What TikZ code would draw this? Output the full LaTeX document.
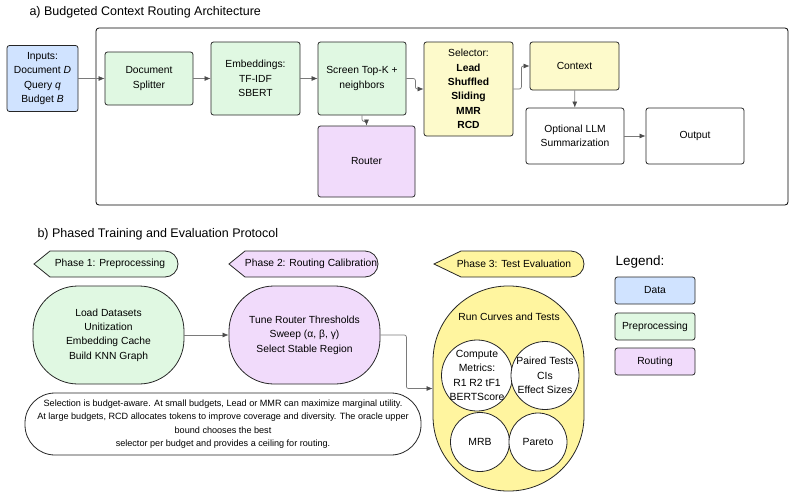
\documentclass[tikz,border=0pt]{standalone}
\usepackage{fontspec}
\setmainfont{Liberation Sans}
\usetikzlibrary{arrows.meta, positioning}

\definecolor{datablue}{HTML}{D0E3FF}
\definecolor{prepgreen}{HTML}{E0F8E2}
\definecolor{routepurple}{HTML}{F1DBFB}
\definecolor{selyellow}{HTML}{FDFACB}
\definecolor{evalyellow}{HTML}{FFF59F}
\definecolor{wire}{HTML}{7A7A7A}

\begin{document}
\begin{tikzpicture}[x=1pt, y=-1pt,
	blk/.style={draw=black!85, line width=0.8pt, rounded corners=2.5pt, align=center,
		inner sep=1pt, font=\fontsize{10.3}{14.4}\selectfont},
	circ/.style={circle, draw=black!85, line width=0.8pt, fill=white, align=center,
		inner sep=-5pt, font=\fontsize{10.4}{14.3}\selectfont},
	tag/.style={draw=black!85, line width=0.8pt},
	flow/.style={wire, line width=0.7pt, rounded corners=2pt,
		-{Latex[length=6pt, width=5pt, color=black!70]}},
	heading/.style={anchor=west, font=\fontsize{12.5}{15}\selectfont}]

			\useasboundingbox (0,0) rectangle (795,498);

			% Part a: the architecture
			\node[heading] (titlea) at (26,12) {a) Budgeted Context Routing Architecture};

			\draw[line width=0.8pt, rounded corners=3pt] (96,28) rectangle (788,205);

			\node[blk, fill=datablue, minimum width=71pt, minimum height=66pt] (inputs) at (42.5,78.5)
				{Inputs:\\Document \textit{D}\\Query \textit{q}\\Budget \textit{B}};
			\node[blk, fill=prepgreen, minimum width=88pt, minimum height=53pt] (splitter) at (149,78.5)
				{Document\\Splitter};
			\node[blk, fill=prepgreen, minimum width=89pt, minimum height=73pt] (embed) at (255.5,78.5)
				{Embeddings:\\TF-IDF\\SBERT};
			\node[blk, fill=prepgreen, minimum width=88pt, minimum height=73pt] (screen) at (362,78.5)
				{Screen Top-K +\\neighbors};
			\node[blk, fill=routepurple, minimum width=97pt, minimum height=71pt] (router) at (366.5,161.5)
				{Router};
			\node[blk, fill=selyellow, minimum width=89pt, minimum height=94pt] (selector) at (468.5,89)
				{Selector:\\\textbf{Lead}\\\textbf{Shuffled}\\\textbf{Sliding}\\\textbf{MMR}\\\textbf{RCD}};
			\node[blk, fill=selyellow, minimum width=89pt, minimum height=48pt] (context) at (574.5,66)
				{Context};
			\node[blk, fill=white, minimum width=98pt, minimum height=56pt] (summ) at (575,136)
				{Optional LLM\\Summarization};
			\node[blk, fill=white, minimum width=98pt, minimum height=56pt] (output) at (695,136)
				{Output};

			% Draw the connectors of part a
			\draw[flow] (inputs) -- (splitter);
			\draw[flow] (splitter) -- (embed);
			\draw[flow] (embed) -- (screen);
			\draw[flow] (screen.east) -- ++(9,0) |- (selector.west);
			\draw[flow] (screen.south) -- ++(0,6) -| (router.north);
			\draw[flow] (selector.east) -- ++(8,0) |- (context.west);
			\draw[flow] (context) -- (summ);
			\draw[flow] (summ) -- (output);

			% Part b: the protocol
			\node[heading] (titleb) at (34,234) {b) Phased Training and Evaluation Protocol};

			% Draw the phase tags
			\draw[tag, fill=prepgreen] (34,264) -- (50,251) -- (165,251)
				arc[start angle=-90, end angle=90, radius=13] -- (50,277) -- cycle;
			\node[font=\fontsize{10.3}{12}\selectfont] (phase1) at (110,264) {Phase 1: Preprocessing};

			\draw[tag, fill=routepurple] (229,264) -- (245,251) -- (365,251)
				arc[start angle=-90, end angle=90, radius=13] -- (245,277) -- cycle;
			\node[font=\fontsize{10.3}{12}\selectfont] (phase2) at (311,264) {Phase 2: Routing Calibration};

			\draw[tag, fill=evalyellow] (434,264) -- (461,251) -- (571,251)
				arc[start angle=-90, end angle=90, radius=13] -- (461,277) -- cycle;
			\node[font=\fontsize{10.3}{12}\selectfont] (phase3) at (514,264) {Phase 3: Test Evaluation};

			% Draw the phase bodies
			\node[blk, fill=prepgreen, rounded corners=45pt, minimum width=151pt, minimum height=98pt] (prep)
				at (108.5,335) {Load Datasets\\Unitization\\Embedding Cache\\Build KNN Graph};
			\node[blk, fill=routepurple, rounded corners=45pt, minimum width=151pt, minimum height=98pt] (calib)
				at (304.5,335) {Tune Router Thresholds\\Sweep (α, β, γ)\\Select Stable Region};
			\node[blk, fill=evalyellow, rounded corners=75pt, minimum width=151pt, minimum height=205pt] (eval)
				at (508.5,388.5) {};
			\node[font=\fontsize{10.3}{12}\selectfont] (evaltitle) at (509,317) {Run Curves and Tests};

			\node[circ, minimum size=71pt] (metrics) at (477,375.5)
				{Compute\\Metrics:\\R1 R2 tF1\\BERTScore};
			\node[circ, minimum size=68pt] (paired) at (545,375.5)
				{Paired Tests\\CIs\\Effect Sizes};
			\node[circ, minimum size=59pt] (mrb) at (480,442) {MRB};
			\node[circ, minimum size=58pt] (pareto) at (538,442) {Pareto};

			% Draw the note
			\node[blk, fill=white, rounded corners=30pt, minimum width=396pt, minimum height=62pt,
				font=\fontsize{9.1}{13.5}\selectfont] (note) at (223,424)
				{Selection is budget-aware. At small budgets, Lead or MMR can maximize marginal utility.\\
				At large budgets, RCD allocates tokens to improve coverage and diversity. The oracle upper\\
				bound chooses the best\\
				selector per budget and provides a ceiling for routing.};

			% Draw the connectors of part b
			\draw[flow] (prep) -- (calib);
			\draw[flow] (calib.east) -- ++(26,0) |- (eval.west);

			% Draw the legend
			\node[anchor=west, font=\fontsize{13.5}{16}\selectfont] (legend) at (612,262) {Legend:};
			\node[blk, fill=datablue, minimum width=80pt, minimum height=27pt] (legdata) at (655,290.5) {Data};
			\node[blk, fill=prepgreen, minimum width=80pt, minimum height=27pt] (legprep) at (655,326.5) {Preprocessing};
			\node[blk, fill=routepurple, minimum width=80pt, minimum height=27pt] (legroute) at (655,361.5) {Routing};

		\end{tikzpicture}
\end{document}
